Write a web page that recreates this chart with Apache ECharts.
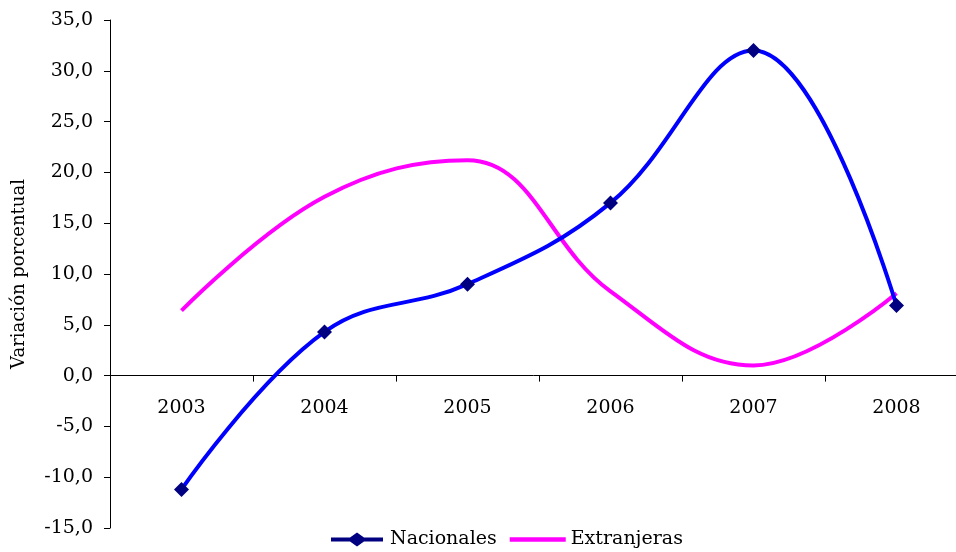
<!DOCTYPE html>
<html><head><meta charset="utf-8">
<script src="https://cdn.jsdelivr.net/npm/echarts@6/dist/echarts.min.js"></script>
<style>html,body{margin:0;padding:0;background:#fff}#c{width:956px;height:552px}</style>
</head><body><div id="c"></div>
<script>
const categories = ['2003','2004','2005','2006','2007','2008'];
const nacionales = [-11.2, 4.3, 9.0, 17.0, 32.0, 6.9];
const extranjeras = [6.4, 17.6, 21.2, 8.3, 1.0, 8.1];
const yMin = -15, yMax = 35;
const chart = echarts.init(document.getElementById('c'));
const font = 'DejaVu Serif';
const gridTop = 20, gridBottom = 24, H = 552;
const plotH = H - gridTop - gridBottom;
const zeroOffset = -plotH * (0 - yMin) / (yMax - yMin);
chart.setOption({
  animation: false,
  textStyle: {fontFamily: font},
  grid: {left: 110, right: -12, top: gridTop, bottom: gridBottom, outerBoundsMode: 'none', containLabel: false},
  legend: {
    bottom: -2, left: 326, itemWidth: 56, itemHeight: 14, itemGap: 13,
    textStyle: {fontFamily: font, fontSize: 19, color: '#000'},
    data: [
      {name: 'Nacionales', icon: 'path://M0,5 L19,5 L26,0 L33,5 L52,5 L52,9 L33,9 L26,14 L19,9 L0,9 Z'},
      {name: 'Extranjeras', icon: 'path://M0,5 L52,5 L52,9 L0,9 Z'}
    ]
  },
  xAxis: {
    type: 'category', data: categories, boundaryGap: true,
    position: 'bottom', offset: zeroOffset,
    axisLine: {onZero: false, lineStyle: {color: '#000', width: 1}},
    axisTick: {show: true, inside: false, length: 6, lineStyle: {color: '#000'}},
    axisLabel: {color: '#000', fontSize: 19, margin: 23, fontFamily: font}
  },
  yAxis: {
    type: 'value', min: yMin, max: yMax, interval: 5,
    name: 'Variación porcentual', nameLocation: 'middle', nameGap: 82,
    nameTextStyle: {fontFamily: font, fontSize: 18, color: '#000'},
    axisLine: {show: true, lineStyle: {color: '#000', width: 1}},
    axisTick: {show: true, length: 6, lineStyle: {color: '#000'}},
    splitLine: {show: false},
    axisLabel: {color: '#000', fontSize: 19, margin: 17, fontFamily: font,
      formatter: v => v.toFixed(1).replace('.', ',')}
  },
  series: [
    {name: 'Nacionales', type: 'line', data: nacionales, smooth: 0.4,
     symbol: 'diamond', symbolSize: 15, showAllSymbol: true,
     lineStyle: {color: '#0000FF', width: 4},
     itemStyle: {color: '#000080', borderWidth: 0}, z: 3},
    {name: 'Extranjeras', type: 'line', data: extranjeras, smooth: 0.4,
     showSymbol: false, symbol: 'none',
     lineStyle: {color: '#FF00FF', width: 4},
     itemStyle: {color: '#FF00FF'}, z: 2}
  ]
});
</script></body></html>
